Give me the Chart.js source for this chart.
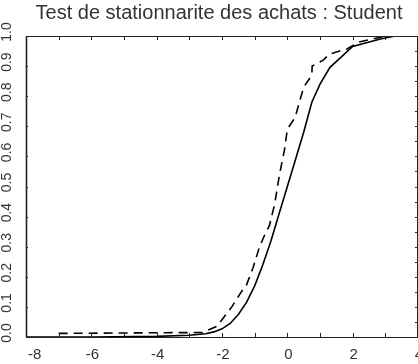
<!DOCTYPE html>
<html>
<head>
<meta charset="utf-8">
<script src="https://cdn.jsdelivr.net/npm/chart.js@4/dist/chart.umd.min.js"></script>
<style>
  html, body { margin: 0; padding: 0; background: #fff; }
  #wrap { width: 418px; height: 364px; }
</style>
</head>
<body>
<div id="wrap"><canvas id="cdfChart" width="418" height="364"></canvas></div>
<script>
// Fonction de repartition theorique (Student) - trait plein
const studentX = [-8, -6, -4, -3, -2.5, -2.25, -2, -1.75, -1.5, -1.25, -1, -0.75, -0.5, -0.25, 0, 0.25, 0.5, 0.75, 1.0, 1.3, 2.0, 2.85, 3.3, 4];
const studentY = [0, 0, 0.002, 0.006, 0.011, 0.017, 0.027, 0.045, 0.075, 0.115, 0.17, 0.24, 0.32, 0.41, 0.5, 0.59, 0.68, 0.78, 0.84, 0.895, 0.965, 0.99, 1.0, 1.0];

// Fonction de repartition empirique des achats - tirets
const empX = [-7, -2.6, -2.16, -1.7, -1.41, -1.26, -1.05, -0.85, -0.69, -0.55, -0.39, -0.24, -0.09, 0, 0.24, 0.5, 0.75, 0.76, 1.1, 1.29, 1.6, 1.8, 2.2, 2.6, 3.0];
const empY = [0.012, 0.015, 0.035, 0.1, 0.15, 0.17, 0.23, 0.3, 0.34, 0.37, 0.44, 0.54, 0.62, 0.69, 0.73, 0.83, 0.87, 0.9, 0.92, 0.94, 0.95, 0.955, 0.98, 0.99, 1.0];

const xTicks = [-8, -6, -4, -2, 0, 2, 4];
const yTicks = [0.0, 0.1, 0.2, 0.3, 0.4, 0.5, 0.6, 0.7, 0.8, 0.9, 1.0];

const chartTitle = 'Test de stationnarite des achats : Student';

const toPoints = (xs, ys) => xs.map((x, i) => ({ x: x, y: ys[i] }));

const ink = '#222';

// cadre, graduations et libelles a la maniere du trace d'origine
const framePlugin = {
    id: 'frame',
    afterDraw(chart) {
        const { ctx, chartArea: a, scales } = chart;
        const xs = scales.x, ys = scales.y;
        ctx.save();

        // cadre
        ctx.strokeStyle = ink;
        ctx.lineWidth = 1;
        ctx.strokeRect(a.left + 0.5, a.top + 0.5, a.right - a.left - 1, a.bottom - a.top);
        ctx.lineWidth = 1.6;
        ctx.beginPath();
        ctx.moveTo(a.left + 0.5, a.top); ctx.lineTo(a.left + 0.5, a.bottom);
        ctx.stroke();
        ctx.lineWidth = 1;

        // graduations x (bas et haut) tous les 1
        ctx.beginPath();
        for (let v = xs.min + 1; v < xs.max; v++) {
            const px = Math.round(xs.getPixelForValue(v)) + 0.5;
            ctx.moveTo(px, a.bottom); ctx.lineTo(px, a.bottom - 4);
            ctx.moveTo(px, a.top); ctx.lineTo(px, a.top + 4);
        }
        // graduations y : gauche tous les 0.1, droite tous les 0.05
        for (let i = 1; i < 20; i++) {
            const py = Math.round(ys.getPixelForValue(i * 0.05)) + 0.5;
            ctx.moveTo(a.right - 1, py); ctx.lineTo(a.right - 3, py);
            if (i % 2 === 0) { ctx.moveTo(a.left, py); ctx.lineTo(a.left + 2, py); }
        }
        ctx.stroke();

        // titre
        ctx.fillStyle = '#333';
        ctx.font = '20px "Liberation Sans", Arial, sans-serif';
        ctx.textAlign = 'center';
        ctx.textBaseline = 'middle';
        ctx.fillText(chartTitle, 219, 13);

        // libelles x
        ctx.font = '15px "Liberation Sans", Arial, sans-serif';
        xTicks.forEach((v, i) => {
            const px = xs.getPixelForValue(v);
            if (i === 0) {
                ctx.textAlign = 'left';
                ctx.fillText(String(v), px + 2, 355);
            } else {
                ctx.textAlign = 'center';
                ctx.fillText(String(v), px + 1, 355);
            }
        });

        // libelles y (verticaux)
        ctx.font = '14px "Liberation Sans", Arial, sans-serif';
        ctx.textAlign = 'center';
        yTicks.forEach(v => {
            const py = ys.getPixelForValue(v) - 4;
            ctx.save();
            ctx.translate(7, py);
            ctx.rotate(-Math.PI / 2);
            ctx.fillText(v.toFixed(1), 0, 0);
            ctx.restore();
        });

        ctx.restore();
    }
};

new Chart(document.getElementById('cdfChart'), {
    type: 'line',
    data: {
        datasets: [
            {
                label: 'Student',
                data: toPoints(studentX, studentY),
                borderColor: '#000',
                borderWidth: 1.6,
                pointRadius: 0,
                fill: false,
                tension: 0
            },
            {
                label: 'Achats',
                data: toPoints(empX, empY),
                borderColor: '#000',
                borderWidth: 1.6,
                borderDash: [9, 6],
                pointRadius: 0,
                fill: false,
                tension: 0
            }
        ]
    },
    options: {
        responsive: false,
        animation: false,
        layout: { padding: { left: 18, right: 0, top: 36, bottom: 19 } },
        plugins: {
            legend: { display: false },
            title: { display: false },
            tooltip: { enabled: false }
        },
        scales: {
            x: {
                type: 'linear',
                min: -8, max: 4,
                ticks: { display: false, stepSize: 1 },
                grid: { display: false },
                border: { display: false }
            },
            y: {
                type: 'linear',
                min: 0, max: 1,
                ticks: { display: false, stepSize: 0.1 },
                grid: { display: false },
                border: { display: false }
            }
        }
    },
    plugins: [framePlugin]
});
</script>
</body>
</html>
